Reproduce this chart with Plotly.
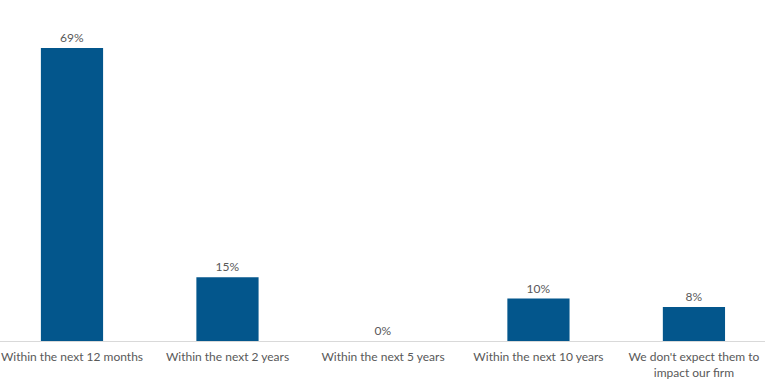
import plotly.graph_objects as go

categories = ["Within the next 12 months", "Within the next 2 years", "Within the next 5 years",
              "Within the next 10 years", "We don't expect them to<br>impact our firm"]
values = [69, 15, 0, 10, 8]
labels = ["69%", "15%", "0%", "10%", "8%"]

fig = go.Figure(go.Bar(
    x=categories, y=values, text=labels, textposition="outside",
    textfont=dict(color="#595959", size=12, family="Lato"),
    marker=dict(color="#03568C", line=dict(width=0)),
    width=0.4, cliponaxis=False, hoverinfo="skip",
))
fig.update_layout(
    width=765, height=390, margin=dict(l=0, r=0, t=0, b=49),
    plot_bgcolor="white", paper_bgcolor="white",
    font=dict(family="Lato", color="#595959", size=12),
    showlegend=False,
)
fig.update_xaxes(range=[-0.463, 4.457], showline=True, linecolor="#D9D9D9", linewidth=1,
                 ticks="", showgrid=False, automargin=False, ticklabelstandoff=5,
                 tickfont=dict(size=12, color="#595959"))
fig.update_yaxes(range=[0, 80.3], visible=False, showgrid=False, automargin=False)
fig.write_html("out.html", config={"displayModeBar": False},
               post_script="document.body.style.margin='0';document.body.style.overflow='hidden';")
